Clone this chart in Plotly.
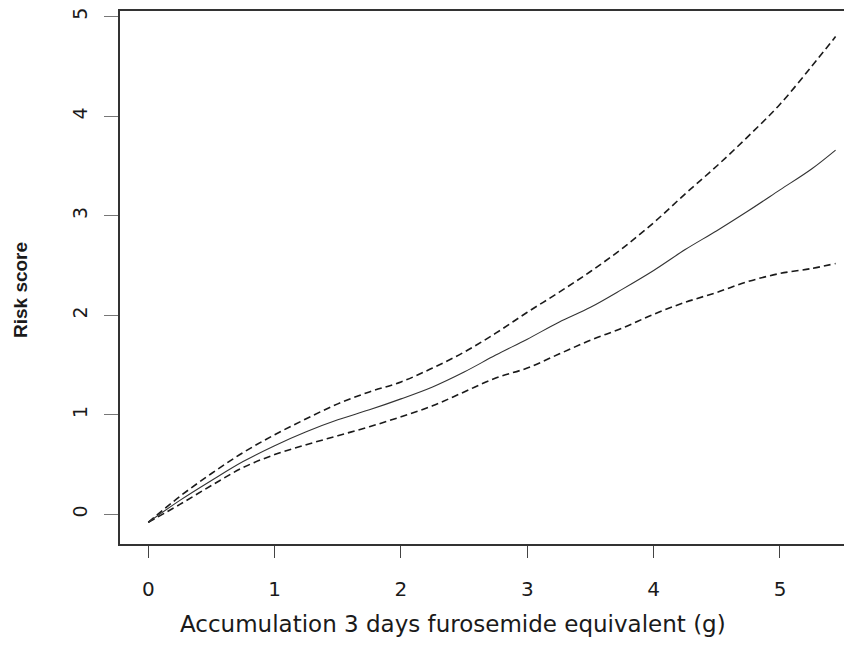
import plotly.graph_objects as go

# Data
dose_g = [0, 0.25, 0.5, 0.75, 1, 1.25, 1.5, 1.75, 2, 2.25, 2.5, 2.75, 3, 3.25,
          3.5, 3.75, 4, 4.25, 4.5, 4.75, 5, 5.25, 5.44]
risk_fit = [-0.08, 0.14, 0.34, 0.53, 0.69, 0.83, 0.95, 1.05, 1.16, 1.28, 1.43, 1.60,
            1.76, 1.93, 2.08, 2.26, 2.45, 2.66, 2.85, 3.05, 3.26, 3.47, 3.66]
risk_upper = [-0.08, 0.18, 0.41, 0.62, 0.80, 0.96, 1.11, 1.23, 1.33, 1.47, 1.63, 1.82,
              2.03, 2.23, 2.44, 2.67, 2.93, 3.22, 3.50, 3.80, 4.12, 4.50, 4.80]
risk_lower = [-0.08, 0.10, 0.29, 0.47, 0.60, 0.70, 0.79, 0.88, 0.98, 1.09, 1.23, 1.37,
              1.47, 1.61, 1.75, 1.87, 2.01, 2.13, 2.23, 2.34, 2.42, 2.47, 2.52]
x_ticks = [0, 1, 2, 3, 4, 5]
y_ticks = [0, 1, 2, 3, 4, 5]
x_title = "Accumulation 3 days furosemide equivalent (g)"
y_title = "Risk score"

FONT = "Liberation Sans, Arial, sans-serif"
WIDE = "DejaVu Sans, Liberation Sans, sans-serif"

fig = go.Figure()
fig.add_trace(go.Scatter(x=dose_g, y=risk_upper, mode="lines", line_shape="spline",
                         line=dict(color="#1a1a1a", width=1.6, dash="7px,4px"),
                         showlegend=False, hoverinfo="skip"))
fig.add_trace(go.Scatter(x=dose_g, y=risk_lower, mode="lines", line_shape="spline",
                         line=dict(color="#1a1a1a", width=1.6, dash="7px,4px"),
                         showlegend=False, hoverinfo="skip"))
fig.add_trace(go.Scatter(x=dose_g, y=risk_fit, mode="lines", line_shape="spline",
                         line=dict(color="#333333", width=1.1),
                         showlegend=False, hoverinfo="skip"))

fig.update_layout(
    width=844, height=643,
    margin=dict(l=112, r=0, t=3, b=107, pad=0),
    paper_bgcolor="white", plot_bgcolor="white",
    font=dict(family=FONT, color="#1a1a1a"),
    xaxis=dict(range=[-0.224, 5.570], tickvals=x_ticks, ticktext=[str(v) for v in x_ticks],
               showgrid=False, zeroline=False, showline=True, linecolor="#333333", linewidth=1.6,
               mirror=True, ticks="outside", ticklen=12, tickwidth=1.4, tickcolor="#444444",
               tickfont=dict(size=20, family=WIDE, color="#1a1a1a"), ticklabelstandoff=14,
               ticklabeloverflow="allow", automargin=False),
    yaxis=dict(range=[-0.298, 5.057], tickvals=y_ticks, ticktext=[str(v) for v in y_ticks],
               showgrid=False, zeroline=False, showline=True, linecolor="#333333", linewidth=1.6,
               ticks="outside", ticklen=14, tickwidth=1.4, tickcolor="#777777", tickangle=-90,
               tickfont=dict(size=19, family=WIDE, color="#1a1a1a"), ticklabelstandoff=10,
               ticklabeloverflow="allow", automargin=False),
    annotations=[
        dict(text=x_title, xref="paper", yref="paper", x=0.455, y=-0.150,
             xanchor="center", yanchor="middle", showarrow=False,
             font=dict(size=23, family=WIDE, color="#1a1a1a")),
        dict(text="<b>" + y_title + "</b>", xref="paper", yref="paper", x=-0.1366, y=0.4765,
             xanchor="center", yanchor="middle", showarrow=False, textangle=-90,
             font=dict(size=19, family=FONT, color="#1a1a1a")),
    ],
)

fig.write_html("out.html")
